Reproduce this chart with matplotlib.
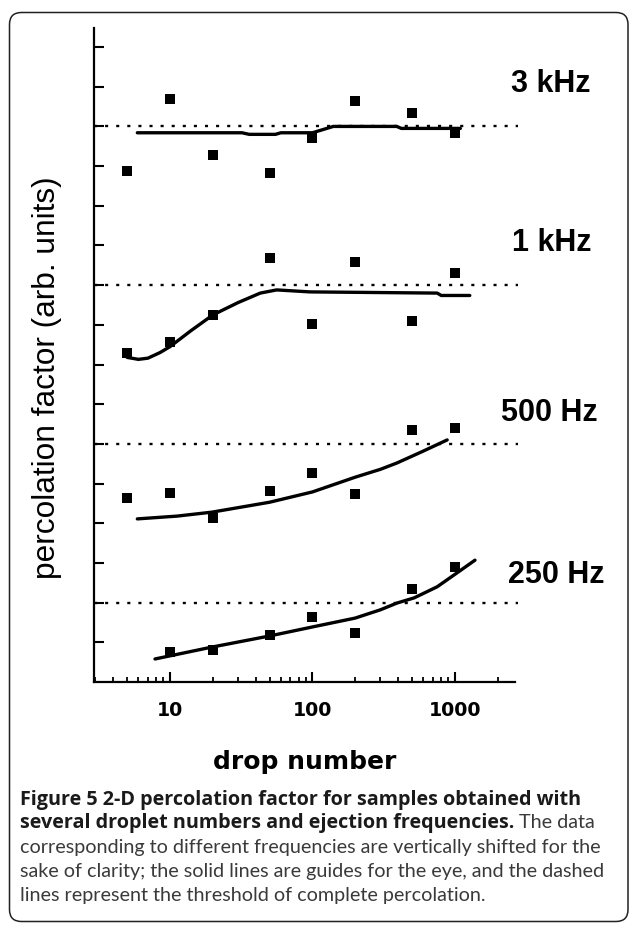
import numpy as np
import matplotlib.pyplot as plt
import matplotlib.transforms as mtransforms
from matplotlib.patches import FancyBboxPatch
from matplotlib.ticker import FixedLocator, FixedFormatter, LogLocator, NullFormatter

# drop numbers and percolation factor (arb. units, curves shifted vertically)
drops = [5, 10, 20, 50, 100, 200, 500, 1000]
drops_250 = [10, 20, 50, 100, 200, 500, 1000]
pf_3k = [12.87, 14.69, 13.28, 12.82, 13.71, 14.64, 14.34, 13.83]
pf_1k = [8.30, 8.57, 9.25, 10.68, 9.02, 10.58, 9.10, 10.30]
pf_500 = [4.64, 4.76, 4.13, 4.81, 5.27, 4.74, 6.35, 6.40]
pf_250 = [0.76, 0.81, 1.18, 1.64, 1.23, 2.34, 2.90]

# guides for the eye
guide_3k_x = [5.9, 32, 36, 55, 60, 100, 140, 390, 420, 1090]
guide_3k_y = [13.84, 13.84, 13.80, 13.80, 13.84, 13.84, 14.0, 14.0, 13.95, 13.95]
guide_1k_x = [5, 6, 7, 8.5, 10, 14, 20, 30, 43, 56, 96, 750, 800, 1270]
guide_1k_y = [8.18, 8.13, 8.16, 8.3, 8.45, 8.85, 9.25, 9.56, 9.8, 9.88, 9.83, 9.80, 9.74, 9.74]
guide_500_x = [5.9, 11.2, 19.7, 50, 100, 199, 300, 392, 600, 881]
guide_500_y = [4.11, 4.18, 4.28, 4.53, 4.79, 5.16, 5.36, 5.52, 5.82, 6.10]
guide_250_x = [7.85, 19.7, 50, 100.8, 199, 300, 392, 517, 750, 1033, 1381]
guide_250_y = [0.58, 0.88, 1.16, 1.39, 1.61, 1.82, 1.99, 2.12, 2.40, 2.75, 3.07]

thresholds = [14, 10, 6, 2]
freq_labels = ['3 kHz', '1 kHz', '500 Hz', '250 Hz']
label_y = [15.07, 11.06, 6.78, 2.70]

W, H = 629, 926
fig = plt.figure(figsize=(W / 100, H / 100), dpi=100)
ax = fig.add_axes([94 / W, 1 - 682 / H, (515 - 94) / W, (682 - 28) / H])
ax.set_xscale('log')
ax.set_xlim(2.93, 2636)
ax.set_ylim(0, 16.48)

for t in thresholds:
    ax.axhline(t, xmin=0, xmax=(518 - 94) / 421, color='black', lw=1.7,
               ls=(0, (1.3, 3.4)), clip_on=False)

for gx, gy in [(guide_3k_x, guide_3k_y), (guide_1k_x, guide_1k_y),
               (guide_500_x, guide_500_y), (guide_250_x, guide_250_y)]:
    ax.plot(gx, gy, '-', color='black', lw=2.4, solid_capstyle='round')

for dx, dy in [(drops, pf_3k), (drops, pf_1k), (drops, pf_500), (drops_250, pf_250)]:
    ax.plot(dx, dy, 's', color='black', ms=7.2, mew=0)

trans = mtransforms.blended_transform_factory(ax.transAxes, ax.transData)
for lab, ly, cx in zip(freq_labels, label_y, [551, 552, 549, 556]):
    ax.text((cx - 94) / 421, ly, lab, transform=trans, ha='center', va='center',
            fontsize=22, fontweight='bold', family='Liberation Sans', clip_on=False)

for s in ['top', 'right']:
    ax.spines[s].set_visible(False)
for s in ['left', 'bottom']:
    ax.spines[s].set_linewidth(1.6)

ax.yaxis.set_major_locator(FixedLocator(np.arange(1, 17)))
ax.tick_params(axis='y', direction='in', length=7.5, width=1.5, labelleft=False)
ax.xaxis.set_major_locator(FixedLocator([10, 100, 1000]))
ax.xaxis.set_major_formatter(FixedFormatter(['10', '100', '1000']))
ax.xaxis.set_minor_locator(LogLocator(base=10, subs=np.arange(2, 10), numticks=20))
ax.xaxis.set_minor_formatter(NullFormatter())
ax.tick_params(axis='x', which='major', direction='in', length=7.5, width=1.5, pad=14)
ax.tick_params(axis='x', which='minor', direction='in', length=3.5, width=1.3)
for lb in ax.get_xticklabels():
    lb.set_fontsize(13.7)
    lb.set_fontweight('bold')
    lb.set_family('DejaVu Sans')

fig.text(305 / W, 1 - 762 / H, 'drop number', ha='center', va='center',
         fontsize=18, fontweight='bold', family='DejaVu Sans')
fig.text(47 / W, 1 - 378 / H, 'percolation factor (arb. units)', rotation=90,
         ha='center', va='center', fontsize=22.8, family='Liberation Sans')

# caption
reg_font = ['Lato', 'DejaVu Sans']
bold_font = ['Open Sans', 'DejaVu Sans']
cap_size = 14.2
x0 = 20 / W
line_y = [800, 823, 847, 871, 895]
fig.text(x0, 1 - line_y[0] / H, 'Figure 5 2-D percolation factor for samples obtained with',
         fontsize=cap_size, fontweight='bold', family=bold_font, va='center',
         color='#1a1a1a')
bold_part = fig.text(x0, 1 - line_y[1] / H, 'several droplet numbers and ejection frequencies.',
                     fontsize=cap_size, fontweight='bold', family=bold_font,
                     va='center', color='#1a1a1a')
renderer = fig.canvas.get_renderer()
bb = bold_part.get_window_extent(renderer)
fig.text(bb.x1 / W, 1 - line_y[1] / H, ' The data', fontsize=cap_size, family=reg_font,
         va='center', color='#3a3a3a')
rest = ['corresponding to different frequencies are vertically shifted for the',
        'sake of clarity; the solid lines are guides for the eye, and the dashed',
        'lines represent the threshold of complete percolation.']
for txt, ly in zip(rest, line_y[2:]):
    fig.text(x0, 1 - ly / H, txt, fontsize=cap_size, family=reg_font, va='center',
             color='#3a3a3a')

# rounded frame round the whole figure
frame = FancyBboxPatch((0.095, 0.045), 6.185, 9.09,
                       boxstyle='round,pad=0,rounding_size=0.12',
                       transform=fig.dpi_scale_trans, fill=False,
                       edgecolor='#222222', lw=1.1)
fig.add_artist(frame)

fig.savefig('out.png', dpi=100)
